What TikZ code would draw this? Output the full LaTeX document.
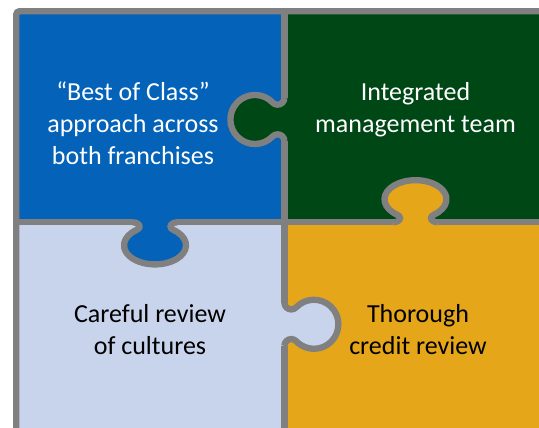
\documentclass[tikz,border=0pt]{standalone}
\usepackage{fontspec}
\setmainfont{Carlito}
\definecolor{pzblue}{RGB}{4,99,184}
\definecolor{pzgreen}{RGB}{0,71,22}
\definecolor{pzpale}{RGB}{200,211,236}
\definecolor{pzgold}{RGB}{229,166,26}
\definecolor{pzgray}{RGB}{128,128,128}
\begin{document}
\begin{tikzpicture}[x=1pt,y=1pt,
  seam/.style={draw=pzgray, line width=6.3pt},
  pztext/.style={inner sep=0pt, align=center, font=\fontsize{26}{32}\selectfont},
  % round tab: baseline along local x, tab bulging towards local +y
  pics/roundtab/.style={code={
    \path[fill=#1] (-21.633,0)
      arc[start angle=-90, end angle=46.33, radius=6.833]
      arc[start angle=226.33, end angle=-46.33, radius=24.5]
      arc[start angle=133.67, end angle=270, radius=6.833]
      -- (21.633,-2) -- (-21.633,-2) -- cycle;
    \draw[seam] (-21.633,0)
      arc[start angle=-90, end angle=46.33, radius=6.833]
      arc[start angle=226.33, end angle=-46.33, radius=24.5]
      arc[start angle=133.67, end angle=270, radius=6.833];
    \coordinate (-a) at (-21.633,0);
    \coordinate (-b) at (21.633,0);
  }},
  % narrower-necked tab, stretched into an oval by the enclosing scope
  pics/ovaltab/.style={code={
    \path[fill=#1] (-17.627,0)
      arc[start angle=-90, end angle=53.85, radius=5.377]
      arc[start angle=233.85, end angle=-53.85, radius=24.5]
      arc[start angle=126.15, end angle=270, radius=5.377]
      -- (17.627,-2) -- (-17.627,-2) -- cycle;
    \draw[seam] (-17.627,0)
      arc[start angle=-90, end angle=53.85, radius=5.377]
      arc[start angle=233.85, end angle=-53.85, radius=24.5]
      arc[start angle=126.15, end angle=270, radius=5.377];
    \coordinate (-a) at (-17.627,0);
    \coordinate (-b) at (17.627,0);
  }},
]
\clip (0,0) rectangle (539,428);
\fill[white] (0,0) rectangle (539,428);

% the four pieces
\fill[pzblue]  (16.3,205.7) rectangle (284.4,416.7);
\fill[pzgreen] (284.4,205.7) rectangle (560,416.7);
\fill[pzpale]  (16.3,-20) rectangle (284.4,205.7);
\fill[pzgold]  (284.4,-20) rectangle (560,205.7);

% interlocking tabs
\begin{scope}[shift={(284.4,308.5)}, rotate=90]
  \pic[transform shape] (t1) {roundtab=pzgreen};
\end{scope}
\begin{scope}[shift={(284.4,103.75)}, rotate=-90]
  \pic[transform shape] (t4) {roundtab=pzpale};
\end{scope}
\begin{scope}[shift={(155,205.7)}, rotate=180, xscale=1.265, yscale=0.78]
  \pic[transform shape] (t2) {ovaltab=pzblue};
\end{scope}
\begin{scope}[shift={(415.5,205.7)}, xscale=1.265, yscale=0.78]
  \pic[transform shape] (t3) {ovaltab=pzgold};
\end{scope}

% seams between the pieces
\coordinate (vtop) at (284.4,416.7);
\coordinate (vbot) at (284.4,-20);
\coordinate (hleft) at (16.3,205.7);
\coordinate (hright) at (560,205.7);
\draw[seam] (vtop) -- (t1-b) (t1-a) -- (t4-a) (t4-b) -- (vbot);
\draw[seam] (hleft) -- (t2-b) (t2-a) -- (t3-a) (t3-b) -- (hright);

% outer frame
\coordinate (fbot) at (16.3,-20);
\coordinate (fcorner) at (16.3,416.7);
\coordinate (fright) at (560,416.7);
\draw[seam, rounded corners=3pt] (fbot) -- (fcorner) -- (fright);

% captions
\node[pztext, text=white] (best) at (133,305) {“Best of Class”\\approach across\\both franchises};
\node[pztext, text=white] (team) at (415.5,317.8) {Integrated\\management team};
\node[pztext, text=black] (cult) at (150,98) {Careful review\\of cultures};
\node[pztext, text=black] (cred) at (418,98) {Thorough\\credit review};
\end{tikzpicture}
\end{document}
